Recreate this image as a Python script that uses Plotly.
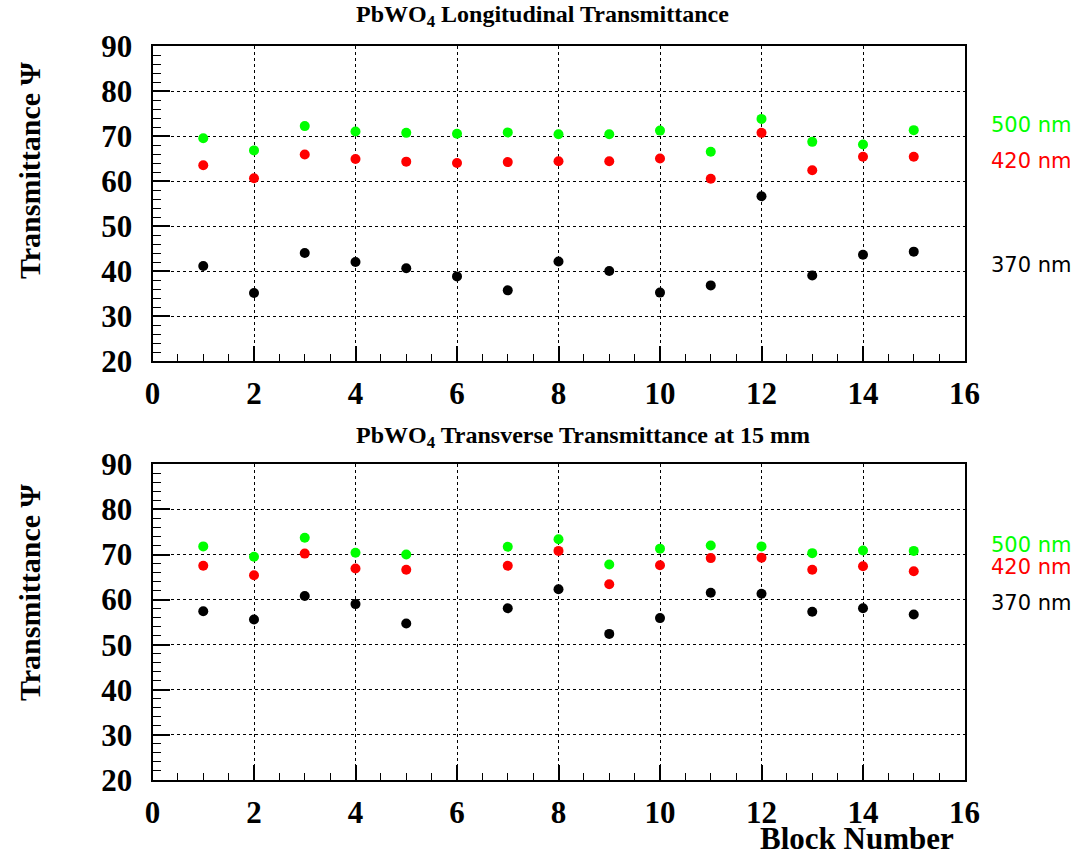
import plotly.graph_objects as go

blocks = list(range(1, 16))

# Longitudinal transmittance (top panel)
long_500 = [69.5, 66.8, 72.2, 71.0, 70.7, 70.5, 70.8, 70.4, 70.4, 71.2, 66.5, 73.8, 68.7, 68.1, 71.3]
long_420 = [63.5, 60.6, 65.9, 64.9, 64.3, 64.0, 64.2, 64.4, 64.4, 65.0, 60.5, 70.7, 62.4, 65.4, 65.4]
long_370 = [41.1, 35.1, 44.0, 42.0, 40.6, 38.8, 35.7, 42.1, 40.0, 35.2, 36.8, 56.6, 39.0, 43.6, 44.3]

# Transverse transmittance at 15 mm (bottom panel); block 6 missing
trans_blocks = [1, 2, 3, 4, 5, 7, 8, 9, 10, 11, 12, 13, 14, 15]
trans_500 = [71.8, 69.5, 73.7, 70.4, 70.0, 71.7, 73.4, 67.8, 71.3, 72.0, 71.8, 70.3, 70.9, 70.8]
trans_420 = [67.5, 65.4, 70.2, 66.9, 66.6, 67.5, 70.8, 63.4, 67.6, 69.2, 69.3, 66.6, 67.4, 66.3]
trans_370 = [57.4, 55.6, 60.8, 59.0, 54.7, 58.1, 62.3, 52.4, 55.9, 61.5, 61.3, 57.3, 58.1, 56.7]

series_colors = {"500 nm": "#00ff00", "420 nm": "#ff0000", "370 nm": "#000000"}

W, H = 1077, 858
def px(x):
    return x / W
def py(y):
    return 1 - y / H

fig = go.Figure()

def add(xs, ys, color, xa, ya):
    fig.add_trace(go.Scatter(x=xs, y=ys, mode="markers", xaxis=xa, yaxis=ya,
                             marker=dict(color=color, size=10, symbol="circle"),
                             showlegend=False))

add(blocks, long_500, series_colors["500 nm"], "x", "y")
add(blocks, long_420, series_colors["420 nm"], "x", "y")
add(blocks, long_370, series_colors["370 nm"], "x", "y")
add(trans_blocks, trans_500, series_colors["500 nm"], "x2", "y2")
add(trans_blocks, trans_420, series_colors["420 nm"], "x2", "y2")
add(trans_blocks, trans_370, series_colors["370 nm"], "x2", "y2")

serif = "Liberation Serif, Times New Roman, serif"
tickfont = dict(family=serif, size=31, color="black", weight="bold")

def xaxis(domain, anchor):
    return dict(domain=domain, anchor=anchor, range=[0, 16], dtick=2, tick0=0,
                ticks="inside", ticklen=15, tickwidth=1.5, tickcolor="black",
                minor=dict(dtick=0.5, ticks="inside", ticklen=7, tickwidth=1, tickcolor="black", showgrid=False),
                showgrid=True, gridcolor="black", griddash="dot", gridwidth=1,
                showline=True, linecolor="black", linewidth=2, mirror=True,
                zeroline=False, tickfont=tickfont, ticklabelstandoff=4,
                automargin=False, fixedrange=True)

def yaxis(domain, anchor):
    return dict(domain=domain, anchor=anchor, range=[20, 90], dtick=10, tick0=20,
                ticks="inside", ticklen=17, tickwidth=1.5, tickcolor="black",
                minor=dict(dtick=2, ticks="inside", ticklen=8, tickwidth=1, tickcolor="black", showgrid=False),
                showgrid=True, gridcolor="black", griddash="dot", gridwidth=1,
                showline=True, linecolor="black", linewidth=2, mirror=True,
                zeroline=False, tickfont=tickfont, ticklabelstandoff=12,
                automargin=False, fixedrange=True)

xd = [px(152.5), px(964.5)]
fig.update_layout(
    width=W, height=H, autosize=False,
    margin=dict(l=0, r=0, t=0, b=0, autoexpand=False),
    paper_bgcolor="white", plot_bgcolor="white",
    xaxis=xaxis(xd, "y"),
    yaxis=yaxis([py(361), py(46)], "x"),
    xaxis2=xaxis(xd, "y2"),
    yaxis2=yaxis([py(780), py(464.3)], "x2"),
)

ann = []
def text(x, y, s, size, color="black", family=serif, bold=True, angle=0, xanchor="center", yanchor="middle"):
    ann.append(dict(x=px(x), y=py(y), xref="paper", yref="paper", text=s, showarrow=False,
                    textangle=angle, xanchor=xanchor, yanchor=yanchor,
                    font=dict(family=family, size=size, color=color, weight="bold" if bold else "normal")))

text(542, 16, "PbWO<sub>4</sub> Longitudinal Transmittance", 24)
text(583, 437, "PbWO<sub>4</sub> Transverse Transmittance at 15 mm", 24)
text(29, 170, "Transmittance \u03a8", 30, angle=-90)
text(29, 592, "Transmittance \u03a8", 30, angle=-90)
text(857, 858, "Block Number", 31, yanchor="bottom")

sans = "DejaVu Sans, sans-serif"
text(989, 125, "500 nm", 21, color=series_colors["500 nm"], family=sans, bold=False, xanchor="left")
text(989, 161, "420 nm", 21, color=series_colors["420 nm"], family=sans, bold=False, xanchor="left")
text(989, 265, "370 nm", 21, color=series_colors["370 nm"], family=sans, bold=False, xanchor="left")
text(989, 545, "500 nm", 21, color=series_colors["500 nm"], family=sans, bold=False, xanchor="left")
text(989, 567, "420 nm", 21, color=series_colors["420 nm"], family=sans, bold=False, xanchor="left")
text(989, 603, "370 nm", 21, color=series_colors["370 nm"], family=sans, bold=False, xanchor="left")

fig.update_layout(annotations=ann)
fig.write_html("out.html", config={"displayModeBar": False},
               post_script="document.body.style.margin='0';document.body.style.overflow='hidden';")
